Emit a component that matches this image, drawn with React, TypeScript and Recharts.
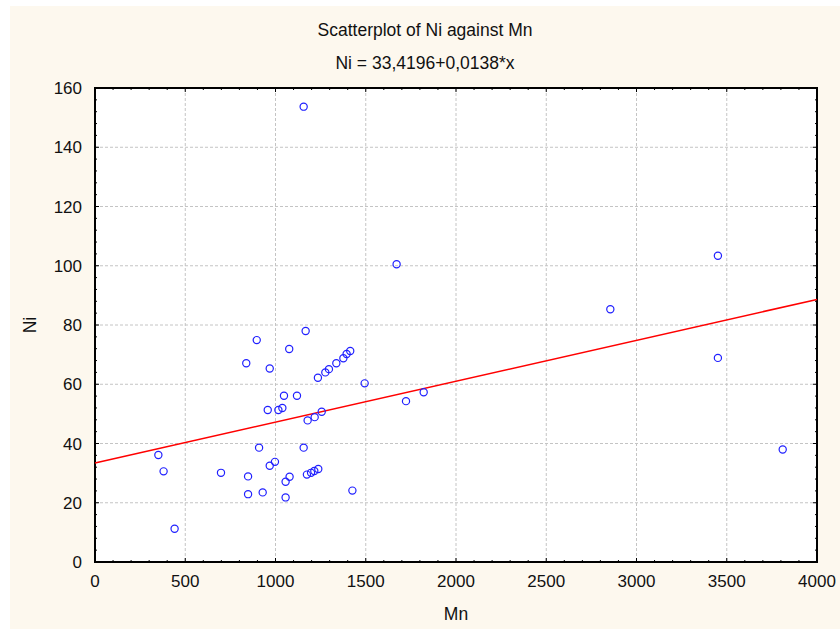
import React from 'react';
import {
  ScatterChart,
  Scatter,
  XAxis,
  YAxis,
  CartesianGrid,
  ReferenceLine,
  ReferenceArea,
} from 'recharts';

// values
const mnValues = [
  351, 380, 441, 698, 838, 848, 848, 896, 909, 929, 957, 968, 968, 997, 1016, 1038,
  1047, 1056, 1056, 1076, 1078, 1119, 1156, 1156, 1167, 1174, 1178, 1197, 1215, 1217,
  1235, 1237, 1256, 1276, 1296, 1337, 1376, 1394, 1414, 1426, 1494, 1671, 1723, 1821,
  2855, 3451, 3451, 3810,
];
const niValues = [
  36.1, 30.6, 11.2, 30.1, 67.1, 28.9, 22.9, 74.9, 38.6, 23.5, 51.3, 65.3, 32.5, 33.8, 51.3, 52.0,
  56.1, 27.1, 21.8, 71.9, 28.8, 56.1, 153.7, 38.6, 78.0, 29.5, 47.8, 30.1, 30.7, 48.9,
  62.2, 31.4, 50.7, 64.0, 65.1, 67.1, 68.8, 70.2, 71.2, 24.1, 60.3, 100.5, 54.3, 57.3,
  85.3, 103.4, 68.9, 38.0,
];
const xMajorTicks = [0, 500, 1000, 1500, 2000, 2500, 3000, 3500, 4000];
const yMajorTicks = [0, 20, 40, 60, 80, 100, 120, 140, 160];
const INTERCEPT = 33.4196;
const SLOPE = 0.0138;

const X_MAX = 4000;
const Y_MAX = 160;

// minor ticks: 5 per major interval
const xTicks: number[] = [];
for (let v = 0; v <= X_MAX; v += 100) xTicks.push(v);
const yTicks: number[] = [];
for (let v = 0; v <= Y_MAX; v += 4) yTicks.push(v);

const data = mnValues.map((mn, i) => ({ mn, ni: niValues[i] }));

const W = 830;
const H = 623;
const margin = { top: 82, right: 23, left: 45, bottom: 37 };
const Y_AXIS_W = 40;
const X_AXIS_H = 30;
const PLOT_LEFT = margin.left + Y_AXIS_W;
const PLOT_RIGHT = W - margin.right;
const PLOT_TOP = margin.top;
const PLOT_BOTTOM = H - margin.bottom - X_AXIS_H;

const FONT = '"Liberation Sans", Arial, sans-serif';
const BG = '#FDF8EE';
const TICK_FS = 17;
const TITLE_FS = 17.5;

const XTick = (props: any) => {
  const { x, payload } = props;
  const v = payload.value;
  const major = v % 500 === 0;
  const len = major ? 4 : 2;
  return (
    <g>
      <line x1={x} x2={x} y1={PLOT_BOTTOM} y2={PLOT_BOTTOM - len} stroke="#000" />
      <line x1={x} x2={x} y1={PLOT_TOP} y2={PLOT_TOP + len} stroke="#000" />
      {major && (
        <text x={x} y={PLOT_BOTTOM + 25} textAnchor="middle" fontSize={TICK_FS} fill="#111" fontFamily={FONT}>
          {v}
        </text>
      )}
    </g>
  );
};

const YTick = (props: any) => {
  const { y, payload } = props;
  const v = payload.value;
  const major = v % 20 === 0;
  const len = major ? 4 : 2;
  return (
    <g>
      <line x1={PLOT_LEFT} x2={PLOT_LEFT + len} y1={y} y2={y} stroke="#000" />
      <line x1={PLOT_RIGHT} x2={PLOT_RIGHT - len} y1={y} y2={y} stroke="#000" />
      {major && (
        <text x={PLOT_LEFT - 13} y={y + 6} textAnchor="end" fontSize={TICK_FS} fill="#111" fontFamily={FONT}>
          {v}
        </text>
      )}
    </g>
  );
};

const Ring = (props: any) => (
  <circle cx={props.cx} cy={props.cy} r={3.6} fill="none" stroke="#2020ff" strokeWidth={1.2} />
);

export default function App() {
  return (
    <div style={{ position: 'relative', width: 840, height: 629, background: '#fff', fontFamily: FONT }}>
      <style>{'body{margin:0}'}</style>
      <div style={{ position: 'absolute', left: 10, top: 6, width: W, height: H, background: BG }}>
        <ScatterChart width={W} height={H} margin={margin}>
          <CartesianGrid
            stroke="#c4c4c4"
            strokeDasharray="3 2"
            verticalValues={xMajorTicks}
            horizontalValues={yMajorTicks}
            fill="#fff"
            fillOpacity={1}
          />
          <XAxis
            type="number"
            dataKey="mn"
            domain={[0, X_MAX]}
            ticks={xTicks}
            interval={0}
            height={X_AXIS_H}
            axisLine={false}
            tickLine={false}
            tick={<XTick />}
            allowDataOverflow
          />
          <YAxis
            type="number"
            dataKey="ni"
            domain={[0, Y_MAX]}
            ticks={yTicks}
            interval={0}
            width={Y_AXIS_W}
            axisLine={false}
            tickLine={false}
            tick={<YTick />}
            allowDataOverflow
          />
          <ReferenceLine
            segment={[
              { x: 0, y: INTERCEPT },
              { x: X_MAX, y: INTERCEPT + SLOPE * X_MAX },
            ]}
            stroke="#ff0000"
            strokeWidth={1.6}
            ifOverflow="visible"
          />
          <Scatter data={data} shape={<Ring />} isAnimationActive={false} />
          <ReferenceArea
            x1={0}
            x2={X_MAX}
            y1={0}
            y2={Y_MAX}
            fill="none"
            stroke="#000"
            strokeWidth={2}
            ifOverflow="visible"
          />
        </ScatterChart>
        <div style={{ position: 'absolute', left: 0, width: W, top: 14, textAlign: 'center', fontSize: TITLE_FS, color: '#111' }}>
          Scatterplot of Ni against Mn
        </div>
        <div style={{ position: 'absolute', left: 0, width: W, top: 47, textAlign: 'center', fontSize: TITLE_FS, color: '#111' }}>
          Ni = 33,4196+0,0138*x
        </div>
        <div
          style={{
            position: 'absolute',
            left: PLOT_LEFT,
            width: PLOT_RIGHT - PLOT_LEFT,
            top: 598,
            textAlign: 'center',
            fontSize: TITLE_FS,
            color: '#111',
          }}
        >
          Mn
        </div>
        <div
          style={{
            position: 'absolute',
            left: 20,
            top: PLOT_TOP + (PLOT_BOTTOM - PLOT_TOP) / 2,
            transform: 'translate(-50%, -50%) rotate(-90deg)',
            fontSize: TITLE_FS,
            color: '#111',
          }}
        >
          Ni
        </div>
      </div>
    </div>
  );
}
